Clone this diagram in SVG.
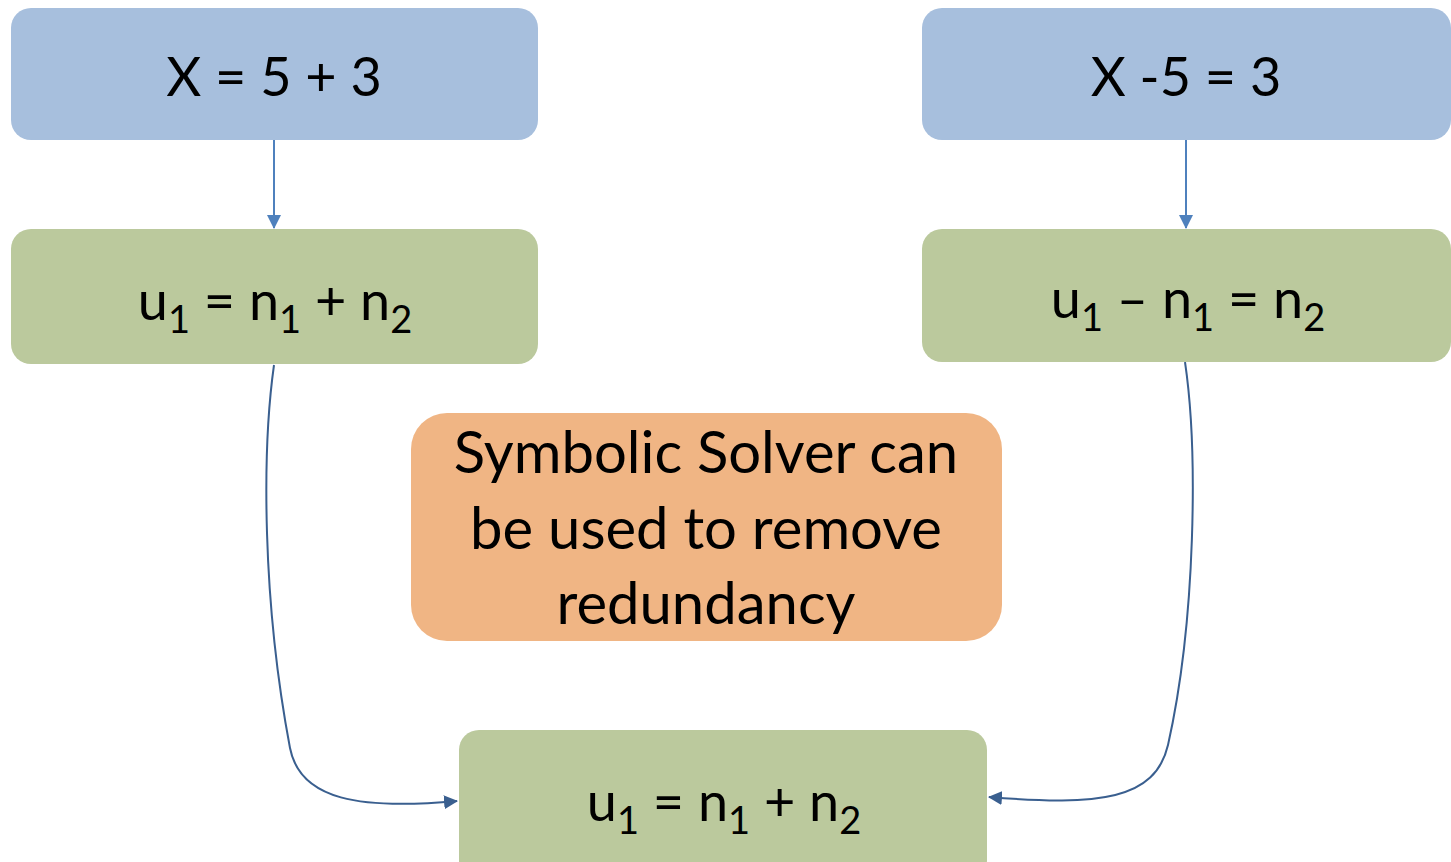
<svg xmlns="http://www.w3.org/2000/svg" width="1451" height="862" viewBox="0 0 1451 862">
<style>
.t{font-family:Lato,"Open Sans","Liberation Sans",sans-serif;font-size:54px;fill:#000;text-anchor:middle}
.o{font-size:58px}
.s{font-size:38px}
.blue{fill:#A7BFDD}
.green{fill:#BBC99D}
.orange{fill:#F0B584}
.c1{fill:none;stroke:#4F81BD;stroke-width:2}
.c2{fill:none;stroke:#3A5F8F;stroke-width:2}
</style>
<defs>
<marker id="a1" markerWidth="14" markerHeight="14" refX="13" refY="7" orient="auto" markerUnits="userSpaceOnUse"><path d="M0,0 L14,7 L0,14 z" fill="#4F81BD"/></marker>
<marker id="a2" markerWidth="14" markerHeight="14" refX="13" refY="7" orient="auto" markerUnits="userSpaceOnUse"><path d="M0,0 L14,7 L0,14 z" fill="#3A5F8F"/></marker>
</defs>
<g id="connectors">
<path class="c1" d="M274,140 L274,228" marker-end="url(#a1)"/>
<path class="c1" d="M1186,140 L1186,228" marker-end="url(#a1)"/>
<path class="c2" d="M274,365 C262,450 262,600 290,748 C300,800 360,810 457,801" marker-end="url(#a2)"/>
<path class="c2" d="M1185,362 C1198,450 1196,620 1168,745 C1155,800 1100,806 989,797" marker-end="url(#a2)"/>
</g>
<g id="n1"><rect class="blue" x="11" y="8" width="527" height="132" rx="20"/><text class="t" x="274" y="96">X = 5 + 3</text></g>
<g id="n2"><rect class="blue" x="922" y="8" width="529" height="132" rx="20"/><text class="t" x="1186" y="96">X -5 = 3</text></g>
<g id="n3"><rect class="green" x="11" y="229" width="527" height="135" rx="20"/><text class="t" x="275" y="320">u<tspan class="s" dy="13">1</tspan><tspan dy="-13"> = n</tspan><tspan class="s" dy="13">1</tspan><tspan dy="-13"> + n</tspan><tspan class="s" dy="13">2</tspan></text></g>
<g id="n4"><rect class="green" x="922" y="229" width="529" height="133" rx="20"/><text class="t" x="1188" y="318">u<tspan class="s" dy="13">1</tspan><tspan dy="-13"> – n</tspan><tspan class="s" dy="13">1</tspan><tspan dy="-13"> = n</tspan><tspan class="s" dy="13">2</tspan></text></g>
<g id="n5"><rect class="orange" x="411" y="413" width="591" height="228" rx="36"/><text class="t o" x="706" y="473">Symbolic Solver can</text><text class="t o" x="706" y="549">be used to remove</text><text class="t o" x="706" y="624">redundancy</text></g>
<g id="n6"><rect class="green" x="459" y="730" width="528" height="150" rx="20"/><text class="t" x="724" y="821">u<tspan class="s" dy="13">1</tspan><tspan dy="-13"> = n</tspan><tspan class="s" dy="13">1</tspan><tspan dy="-13"> + n</tspan><tspan class="s" dy="13">2</tspan></text></g>
</svg>
